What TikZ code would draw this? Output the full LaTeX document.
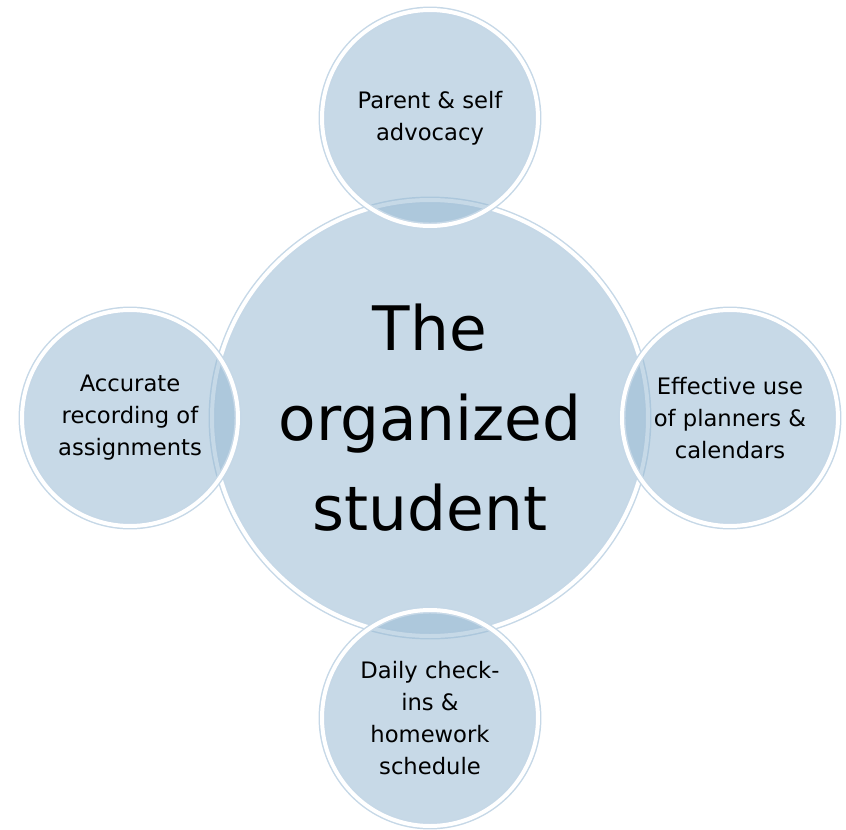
\documentclass[tikz,border=0pt]{standalone}
\usepackage{fontspec}
\setmainfont{DejaVu Sans}
\definecolor{bubblefill}{RGB}{151,185,211}
\definecolor{bubbleline}{RGB}{198,216,231}
\tikzset{
	bubble/.style={circle, inner sep=0pt, fill=bubblefill, fill opacity=0.54, text opacity=1,
		draw=bubbleline, line width=1.1pt, double=white, double distance=3pt, align=center},
	hub/.style={bubble, minimum size=327pt, font=\fontsize{46}{67.5}\selectfont},
	spoke/.style={bubble, minimum size=162pt, font=\fontsize{17}{24}\selectfont}
}

\begin{document}
\begin{tikzpicture}[x=0.75pt, y=0.75pt]
			%%%%% START %%%%%
			\useasboundingbox (-430, -411) rectangle (416, 418);
			
			\node[anchor=base east, font=\fontsize{30}{36}\selectfont] (cut) at (-426, 93) {s};
			
			\node[hub] (org) at (0, 0) {The\\organized\\student};
			
			\node[spoke] (advocacy) at (0, 300) {Parent \& self\\advocacy};
			\node[spoke] (planners) at (300, 0) {Effective use\\of planners \&\\calendars};
			\node[spoke] (checkins) at (0, -300) {Daily check-\\ins \&\\homework\\schedule};
			\node[spoke] (recording) at (-300, 0) {Accurate\\recording of\\assignments};
			%%%%% END %%%%%
\end{tikzpicture}
\end{document}
